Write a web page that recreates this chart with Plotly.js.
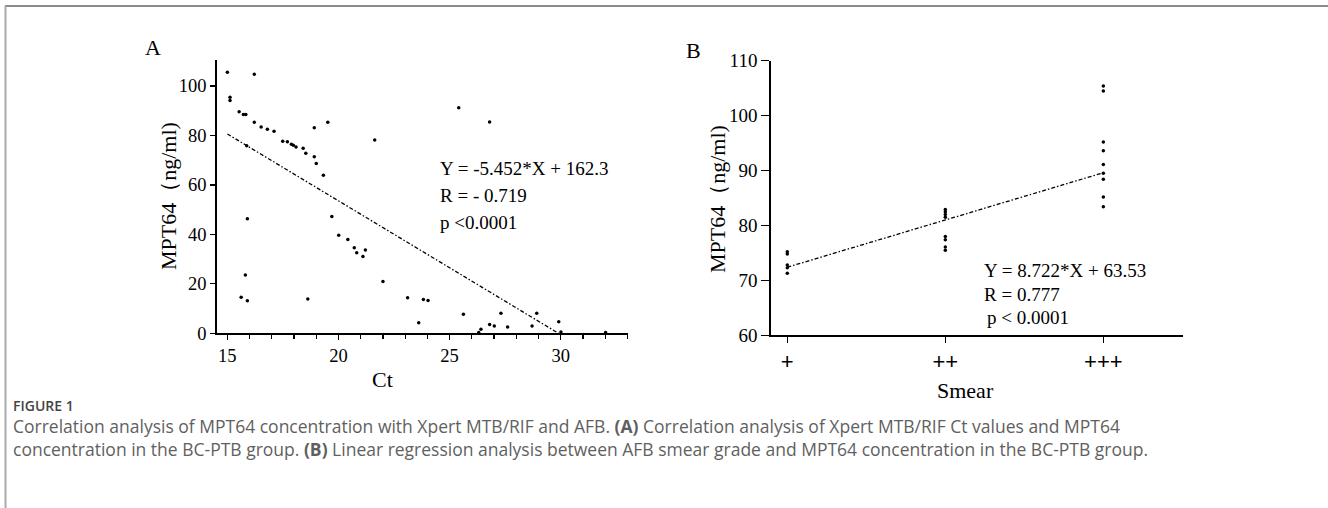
<!DOCTYPE html>
<html>
<head>
<meta charset="utf-8">
<script src="https://cdn.plot.ly/plotly-3.0.1.min.js"></script>
<style>html,body{margin:0;padding:0;background:#fff;}#chart{width:1328px;height:508px;}</style>
</head>
<body>
<div id="chart"></div>
<script>
// Panel A: Xpert Ct vs MPT64
const ctValues = [15.0,15.12,15.12,15.53,15.72,15.83,16.21,16.21,16.52,16.80,17.10,17.49,17.70,17.88,17.97,18.09,18.41,18.53,18.91,18.91,19.0,19.32,19.52,21.63,
  15.90,15.81,15.62,15.90,18.62,19.70,20.01,20.42,20.71,20.82,21.10,21.21,
  25.41,26.80,22.0,23.11,23.82,24.03,23.61,25.62,26.31,26.41,26.80,27.01,27.31,27.61,28.71,28.92,29.91,30.01,32.02,15.87];
const mpt64A = [105.5,95.4,94.1,89.6,88.5,88.5,104.7,85.3,83.4,82.5,81.7,77.6,77.4,76.4,76.0,75.3,74.8,72.8,83.1,71.4,68.7,63.9,85.3,78.2,
  46.3,23.6,14.6,13.2,13.9,47.2,39.6,37.9,34.6,32.6,31.1,33.7,
  91.2,85.4,20.9,14.4,13.7,13.3,4.3,7.7,0.3,1.6,3.6,3.0,8.1,2.5,3.0,8.1,4.7,0.5,0.3,75.8];
const fitAx = [15, 29.9];
const fitAy = [80.6, 0];

// Panel B: smear grade vs MPT64
const smearCats = ['+', '++', '+++'];
const smearX = ['+','+','+','+','+','++','++','++','++','++','++','++','++','+++','+++','+++','+++','+++','+++','+++','+++','+++'];
const mpt64B = [75.2,74.8,72.8,72.3,71.3, 82.9,82.5,82.0,81.5,78.0,77.4,76.1,75.5, 105.4,104.5,95.2,93.6,91.1,89.5,88.4,85.2,83.4];
const fitBx = ['+', '+++'];
const fitBy = [72.4, 89.6];

const W = 1328, H = 508;
const px = v => v / W;
const py = v => 1 - v / H;
const SERIF = 'Liberation Serif, Times New Roman, serif';

const traces = [
  {x: ctValues, y: mpt64A, xaxis: 'x', yaxis: 'y', mode: 'markers', type: 'scatter',
   marker: {color: '#000', size: 3.5}, hoverinfo: 'x+y', showlegend: false},
  {x: fitAx, y: fitAy, xaxis: 'x', yaxis: 'y', mode: 'lines', type: 'scatter',
   line: {color: '#000', width: 1.3, dash: '4px,2px,1.5px,2px'}, showlegend: false},
  {x: smearX, y: mpt64B, xaxis: 'x2', yaxis: 'y2', mode: 'markers', type: 'scatter',
   marker: {color: '#000', size: 3.5}, showlegend: false},
  {x: fitBx, y: fitBy, xaxis: 'x2', yaxis: 'y2', mode: 'lines', type: 'scatter',
   line: {color: '#000', width: 1.3, dash: '4px,2px,1.5px,2px'}, showlegend: false}
];

const axisCommon = {showgrid: false, zeroline: false, showline: true, linecolor: '#000', linewidth: 1.5,
  ticks: 'outside', tickcolor: '#000', tickwidth: 1.3, tickfont: {family: SERIF, size: 18.5, color: '#000'}};

const ann = (x, y, text, opts) => Object.assign({xref: 'paper', yref: 'paper', x: px(x), y: py(y), text: text,
  showarrow: false, xanchor: 'left', yanchor: 'middle', font: {family: SERIF, size: 19, color: '#000'}}, opts || {});

const CAP = 'Open Sans, Noto Sans, sans-serif';
const annotations = [
  ann(153, 47, 'A', {xanchor: 'center', font: {family: SERIF, size: 22, color: '#000'}}),
  ann(693, 50, 'B', {xanchor: 'center', font: {family: SERIF, size: 22, color: '#000'}}),
  ann(168, 196, 'MPT64（ng/ml)', {xanchor: 'center', textangle: -90, font: {family: SERIF, size: 22, color: '#000'}}),
  ann(718, 199, 'MPT64（ng/ml)', {xanchor: 'center', textangle: -90, font: {family: SERIF, size: 22, color: '#000'}}),
  ann(383, 379, 'Ct', {xanchor: 'center', font: {family: SERIF, size: 22, color: '#000'}}),
  ann(965, 390, 'Smear', {xanchor: 'center', font: {family: SERIF, size: 22, color: '#000'}}),
  ann(438, 168, 'Y = -5.452*X + 162.3'),
  ann(438, 195, 'R = - 0.719'),
  ann(438, 222, 'p &lt;0.0001'),
  ann(982, 270, 'Y = 8.722*X + 63.53'),
  ann(982, 294, 'R = 0.777'),
  ann(985, 317, 'p &lt; 0.0001'),
  ann(11, 405, 'FIGURE 1', {font: {family: CAP, size: 14, color: '#444', weight: 600}}),
  ann(11, 426, 'Correlation analysis of MPT64 concentration with Xpert MTB/RIF and AFB. <b>(A)</b> Correlation analysis of Xpert MTB/RIF Ct values and MPT64',
      {font: {family: CAP, size: 17.5, color: '#5f5f5f'}}),
  ann(11, 449, 'concentration in the BC-PTB group. <b>(B)</b> Linear regression analysis between AFB smear grade and MPT64 concentration in the BC-PTB group.',
      {font: {family: CAP, size: 17.5, color: '#5f5f5f'}})
];

const layout = {
  width: W, height: H, autosize: false,
  margin: {l: 0, r: 0, t: 0, b: 0, pad: 0},
  paper_bgcolor: '#fff', plot_bgcolor: 'rgba(0,0,0,0)',
  showlegend: false,
  xaxis: Object.assign({}, axisCommon, {domain: [px(216.7), px(628.3)], range: [14.52, 33.04],
    tick0: 15, dtick: 5, ticklen: 5, anchor: 'y',
    minor: {dtick: 1, tick0: 15, ticks: 'outside', ticklen: 4, tickcolor: '#000', tickwidth: 1.2}}),
  yaxis: Object.assign({}, axisCommon, {domain: [py(333.3), py(60)], range: [0, 110.5],
    tick0: 0, dtick: 20, ticklen: 5, anchor: 'x'}),
  xaxis2: Object.assign({}, axisCommon, {domain: [px(770.7), px(1183.3)], type: 'category',
    categoryorder: 'array', categoryarray: smearCats, range: [-0.105, 2.506], ticklen: 6, anchor: 'y2',
    tickfont: {family: 'Liberation Sans, Arial, sans-serif', size: 22, color: '#000'}}),
  yaxis2: Object.assign({}, axisCommon, {domain: [py(335.3), py(60.7)], range: [60, 110],
    tick0: 60, dtick: 10, ticklen: 8, anchor: 'x2', tickfont: {family: SERIF, size: 19, color: '#000'}}),
  annotations: annotations,
  shapes: [
    {type: 'line', xref: 'paper', yref: 'paper', x0: px(5), x1: 1, y0: py(6), y1: py(6), line: {color: '#666', width: 1.5}},
    {type: 'line', xref: 'paper', yref: 'paper', x0: px(5.5), x1: px(5.5), y0: py(6), y1: 0, line: {color: '#aaa', width: 2}}
  ]
};

Plotly.newPlot('chart', traces, layout, {displayModeBar: false, staticPlot: true});
</script>
</body>
</html>
